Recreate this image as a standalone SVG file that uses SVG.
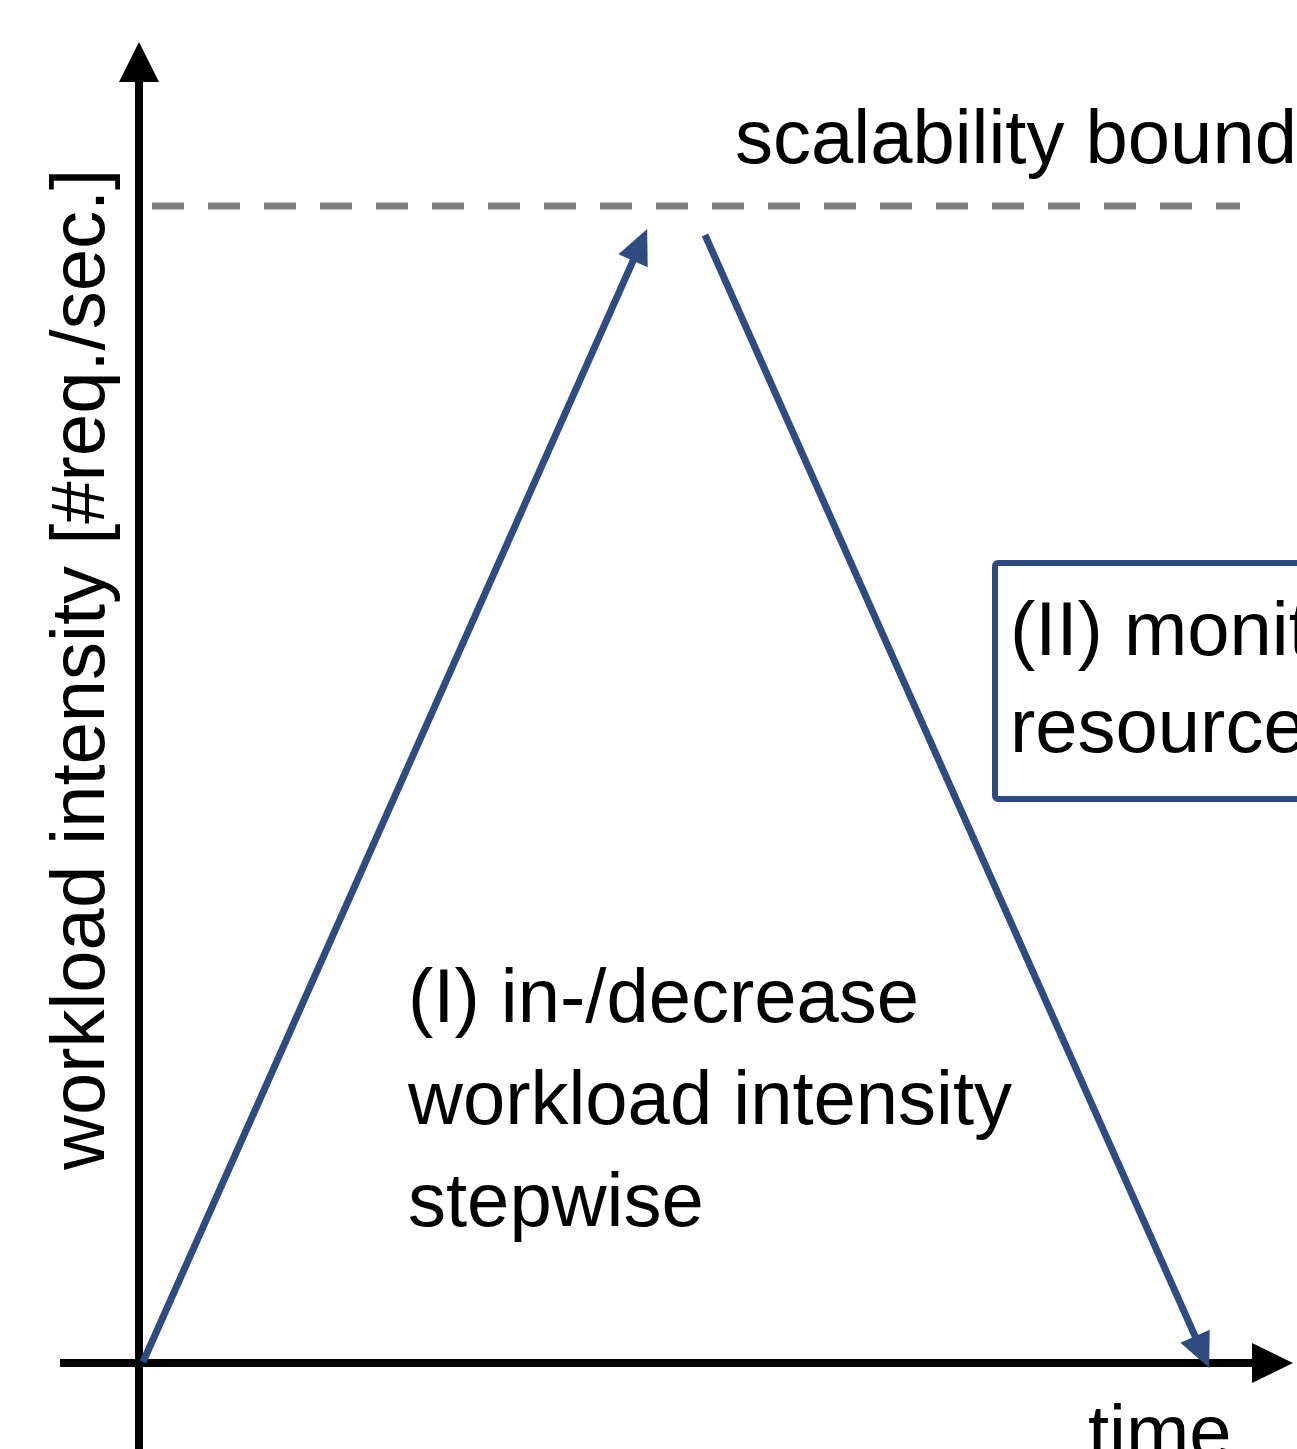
<svg xmlns="http://www.w3.org/2000/svg" width="1297" height="1449" viewBox="0 0 1297 1449">
  <style>
    .axis { stroke: #000; stroke-width: 8; fill: none; }
    .head { fill: #000; }
    .flow { stroke: #2F4B7F; stroke-width: 7; fill: none; }
    .lbl { font-family: "Liberation Sans", Arial, sans-serif; font-size: 76px; fill: #000; }
  </style>
  <defs>
    <marker id="bluehead" markerUnits="userSpaceOnUse" markerWidth="40" markerHeight="40" viewBox="-12 -14 30 28" refX="0" refY="0" orient="auto">
      <path d="M-10,-12 L16,0 L-10,12 Z" fill="#2F4B7F"/>
    </marker>
  </defs>
  <rect width="1297" height="1449" fill="#fff"/>

  <g id="axes">
    <line class="axis" x1="139" y1="1449" x2="139" y2="78"/>
    <polygon class="head" points="139,42 119,82 159,82"/>
    <line class="axis" x1="60" y1="1363" x2="1256" y2="1363"/>
    <polygon class="head" points="1293,1363 1252,1343 1252,1383"/>
  </g>

  <g id="bound">
    <line x1="152" y1="206" x2="1240" y2="206" stroke="#808080" stroke-width="7" stroke-dasharray="32 24"/>
    <text class="lbl" x="735" y="163">scalability bound</text>
  </g>

  <g id="connectors">
    <line class="flow" x1="143" y1="1362" x2="638.5" y2="248.6" marker-end="url(#bluehead)"/>
    <line class="flow" x1="705" y1="235" x2="1200.5" y2="1348.4" marker-end="url(#bluehead)"/>
  </g>

  <g id="ylabel">
    <text class="lbl" transform="translate(104,1170) rotate(-90)">workload intensity [#req./sec.]</text>
  </g>

  <g id="xlabel">
    <text class="lbl" x="1088" y="1458">time</text>
  </g>

  <g id="step-I">
    <text class="lbl" x="408" y="1022">(I) in-/decrease</text>
    <text class="lbl" x="408" y="1124">workload intensity</text>
    <text class="lbl" x="408" y="1226">stepwise</text>
  </g>

  <g id="step-II">
    <rect x="995" y="563" width="320" height="236" rx="3" fill="none" stroke="#2F4B7F" stroke-width="6"/>
    <text class="lbl" x="1010" y="655">(II) monit</text>
    <text class="lbl" x="1010" y="752">resource</text>
  </g>
</svg>
